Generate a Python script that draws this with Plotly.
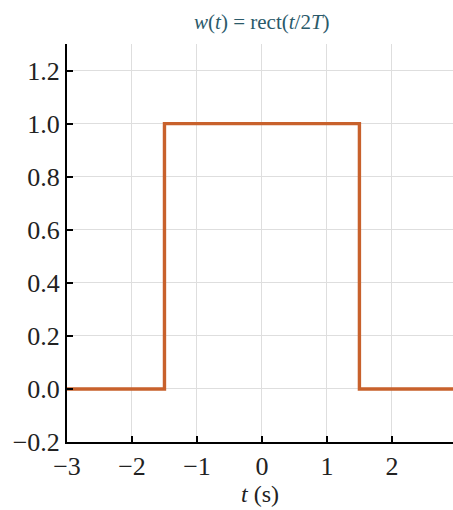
import plotly.graph_objects as go

t_vals = [-3.0, -1.5, -1.5, 1.5, 1.5, 3.0]
w_vals = [0.0, 0.0, 1.0, 1.0, 0.0, 0.0]
x_ticks = [-3, -2, -1, 0, 1, 2]
x_labels = ["\u22123", "\u22122", "\u22121", "0", "1", "2"]
y_ticks = [-0.2, 0.0, 0.2, 0.4, 0.6, 0.8, 1.0, 1.2]
y_labels = ["\u22120.2", "0.0", "0.2", "0.4", "0.6", "0.8", "1.0", "1.2"]

font_fam = "Liberation Serif"

fig = go.Figure()
fig.add_trace(go.Scatter(x=t_vals, y=w_vals, mode="lines",
                         line=dict(color="#c8612c", width=3.4),
                         showlegend=False, hoverinfo="skip"))

fig.update_layout(
    width=453, height=510,
    margin=dict(l=67, r=0, t=44, b=68, autoexpand=False),
    paper_bgcolor="white", plot_bgcolor="white",
    font=dict(family=font_fam, size=26, color="#222222"),
    title=dict(text="<i>w</i>(<i>t</i>) = rect(<i>t</i>/2<i>T</i>)",
               x=0.578, xanchor="center", y=0.957, yanchor="middle",
               font=dict(family=font_fam, size=21, color="#2b5a6a")),
    xaxis=dict(range=[-3, 2.94], tickvals=x_ticks, ticktext=x_labels,
               automargin=False,
               showgrid=True, gridcolor="#dedede", gridwidth=1,
               zeroline=False, showline=True, linecolor="black", linewidth=2,
               ticks="inside", ticklen=6, tickwidth=1.5, tickcolor="black",
               tickfont=dict(family=font_fam, size=26),
               title=dict(text="<i>t</i> (s)", font=dict(family=font_fam, size=24), standoff=4)),
    yaxis=dict(range=[-0.2, 1.3], tickvals=y_ticks, ticktext=y_labels,
               automargin=False,
               showgrid=True, gridcolor="#dedede", gridwidth=1,
               zeroline=False, showline=True, linecolor="black", linewidth=2,
               ticks="inside", ticklen=6, tickwidth=1.5, tickcolor="black",
               tickfont=dict(family=font_fam, size=26)),
)

fig.write_html("out.html",
               config={"displayModeBar": False},
               post_script="document.body.style.margin='0px';document.body.style.overflow='hidden';")
